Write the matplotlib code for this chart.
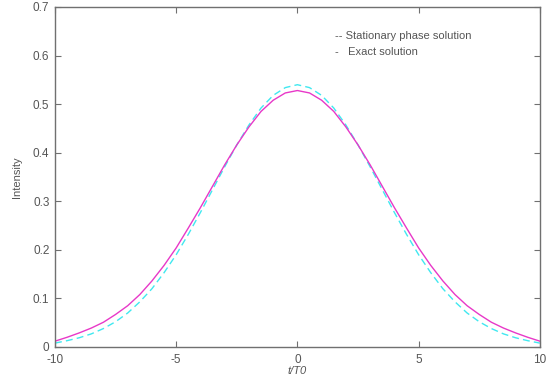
import matplotlib
matplotlib.use('Agg')
import matplotlib.pyplot as plt

plt.rcParams['font.family'] = ['Liberation Sans', 'DejaVu Sans']
plt.rcParams['axes.unicode_minus'] = False

t = [-10, -9.5, -9, -8.5, -8, -7.5, -7, -6.5, -6, -5.5, -5, -4.5, -4, -3.5, -3, -2.5, -2, -1.5, -1, -0.5,
     0, 0.5, 1, 1.5, 2, 2.5, 3, 3.5, 4, 4.5, 5, 5.5, 6, 6.5, 7, 7.5, 8, 8.5, 9, 9.5, 10]

# exact solution (magenta, solid)
half_exact = [0.528, 0.523, 0.508, 0.485, 0.453, 0.416, 0.375, 0.331, 0.287, 0.245,
              0.204, 0.168, 0.136, 0.108, 0.085, 0.067, 0.051, 0.039, 0.029, 0.020, 0.012]
exact = half_exact[:0:-1] + half_exact

# stationary phase solution (cyan, dashed)
half_stat = [0.540, 0.534, 0.518, 0.492, 0.457, 0.416, 0.371, 0.324, 0.277, 0.232,
             0.190, 0.153, 0.120, 0.093, 0.070, 0.052, 0.038, 0.027, 0.019, 0.013, 0.008]
stationary = half_stat[:0:-1] + half_stat

fig = plt.figure(figsize=(5.46, 3.88), dpi=100)
ax = fig.add_axes([0.1007, 0.1057, 0.888, 0.8763])

ax.plot(t, stationary, color='#40e8f0', linestyle=(0, (5, 3)), linewidth=1.0)
ax.plot(t, exact, color='#e838c8', linewidth=1.0)

ax.set_xlim(-10, 10)
ax.set_ylim(0, 0.7)
ax.set_xticks([-10, -5, 0, 5, 10])
ax.set_xticklabels(['-10', '-5', '0', '5', '10'])
ax.set_yticks([0, 0.1, 0.2, 0.3, 0.4, 0.5, 0.6, 0.7])
ax.set_yticklabels(['0', '0.1', '0.2', '0.3', '0.4', '0.5', '0.6', '0.7'])

for s in ax.spines.values():
    s.set_color('#707070')
    s.set_linewidth(1.0)
ax.tick_params(direction='in', length=4, width=0.8, color='#707070',
               labelsize=8.5, labelcolor='#555555', top=True, right=True, pad=4)
ax.tick_params(axis='x', pad=5)

ax.set_xlabel('t/T0', fontsize=8, style='italic', color='#555555', labelpad=0)
ax.set_ylabel('Intensity', fontsize=8, color='#555555', labelpad=8)

ax.text(0.578, 0.905, '-- Stationary phase solution', transform=ax.transAxes,
        fontsize=8, color='#555555')
ax.text(0.578, 0.86, '-   Exact solution', transform=ax.transAxes,
        fontsize=8, color='#555555')

fig.savefig('out.png', dpi=100)
